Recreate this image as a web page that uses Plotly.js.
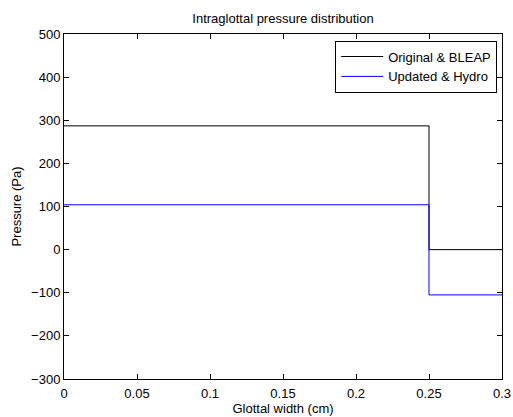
<!DOCTYPE html>
<html>
<head>
<meta charset="utf-8">
<script src="https://cdn.plot.ly/plotly-3.0.1.min.js"></script>
<style>html,body{margin:0;padding:0;background:#fff;}#chart{width:513px;height:417px;}</style>
</head>
<body>
<div id="chart"></div>
<script>
// Data
const glottalWidth = [0, 0.25, 0.3];
const originalBleap = [287, 0, 0];
const updatedHydro = [104, -105, -105];
const seriesNames = ["Original & BLEAP", "Updated & Hydro"];
const xTicks = [0, 0.05, 0.1, 0.15, 0.2, 0.25, 0.3];
const xTickText = ["0", "0.05", "0.1", "0.15", "0.2", "0.25", "0.3"];
const yTicks = [-300, -200, -100, 0, 100, 200, 300, 400, 500];
const yTickText = ["\u2212300", "\u2212200", "\u2212100", "0", "100", "200", "300", "400", "500"];

const font = {family: "Liberation Sans, Arial, sans-serif", size: 13, color: "#000"};

const traces = [
  {x: glottalWidth, y: originalBleap, name: seriesNames[0], type: "scatter", mode: "lines",
   line: {shape: "hv", color: "#000000", width: 1}},
  {x: glottalWidth, y: updatedHydro, name: seriesNames[1], type: "scatter", mode: "lines",
   line: {shape: "hv", color: "#0000ff", width: 1}}
];

const axisCommon = {
  showline: true, linecolor: "#000", linewidth: 1, mirror: "ticks",
  ticks: "inside", ticklen: 5, tickwidth: 1, tickcolor: "#000",
  showgrid: false, zeroline: false, tickfont: font
};

const layout = {
  width: 513, height: 417,
  margin: {l: 64, r: 11, t: 34, b: 38},
  paper_bgcolor: "#fff", plot_bgcolor: "#fff",
  font: font,
  title: {text: "Intraglottal pressure distribution", font: font, x: 0.5, xref: "paper", xanchor: "center", y: 1, yref: "container", yanchor: "top", pad: {t: 14}},
  xaxis: Object.assign({}, axisCommon, {
    range: [0, 0.3], tickvals: xTicks, ticktext: xTickText, ticklabelstandoff: 2,
    title: {text: "Glottal width (cm)", font: font, standoff: 0}
  }),
  yaxis: Object.assign({}, axisCommon, {
    range: [-300, 500], tickvals: yTicks, ticktext: yTickText,
    title: {text: "Pressure (Pa)", font: font, standoff: 6}
  }),
  showlegend: true,
  legend: {x: 0.989, xanchor: "right", y: 0.981, yanchor: "top", bgcolor: "#fff",
    bordercolor: "#000", borderwidth: 1, font: font, tracegroupgap: 0, itemwidth: 42}
};

Plotly.newPlot("chart", traces, layout, {displayModeBar: false, staticPlot: true});
</script>
</body>
</html>
